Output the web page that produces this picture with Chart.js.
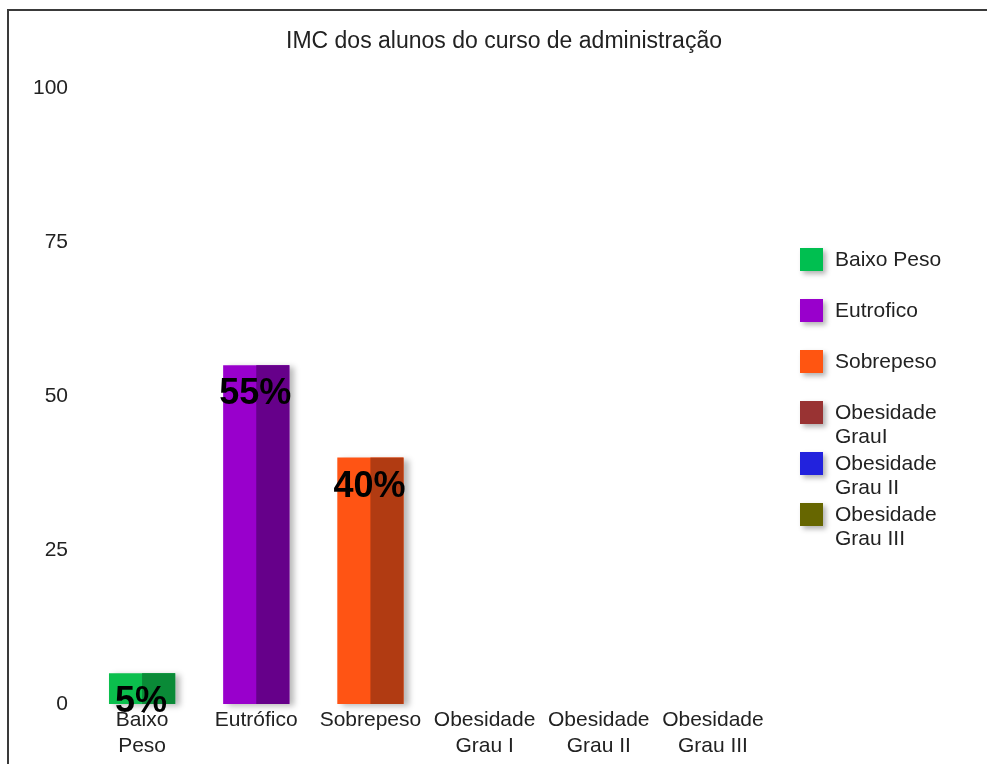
<!DOCTYPE html>
<html>
<head>
<meta charset="utf-8">
<script src="https://cdn.jsdelivr.net/npm/chart.js@4/dist/chart.umd.min.js"></script>
<style>
  body { margin: 0; background: #fff; overflow: hidden; }
  #frame {
    position: absolute; left: 7px; top: 9px;
    width: 1000px; height: 780px;
    border-top: 2px solid #3a3a3a;
    border-left: 2px solid #3a3a3a;
  }
  #imcChart { display: block; }
</style>
</head>
<body>
<div id="frame"><canvas id="imcChart" width="990" height="753"></canvas></div>
<script>
// Dados do grafico
const chartTitle = 'IMC dos alunos do curso de administração';
const categories = [['Baixo', 'Peso'], ['Eutrófico'], ['Sobrepeso'], ['Obesidade', 'Grau I'], ['Obesidade', 'Grau II'], ['Obesidade', 'Grau III']];
const percentages = [5, 55, 40, 0, 0, 0];
const yTicks = [0, 25, 50, 75, 100];
const legendNames = [['Baixo Peso'], ['Eutrofico'], ['Sobrepeso'], ['Obesidade', 'GrauI'], ['Obesidade', 'Grau II'], ['Obesidade', 'Grau III']];

const lightColors = ['#0bbf4d', '#9900cc', '#ff5414', '#993333', '#2222dd', '#666600'];
const darkColors = ['#0a8a37', '#66008a', '#b13b12', '#6b2323', '#17179a', '#474700'];
const legendColors = ['#00bf50', '#9900cc', '#ff5511', '#993333', '#2222dd', '#666600'];

const FONT = '"Liberation Sans", Arial, sans-serif';

// titulo centrado no canvas inteiro (nao so na area do grafico)
const titlePlugin = {
  id: 'wideTitle',
  afterDraw(chart) {
    const ctx = chart.ctx;
    ctx.save();
    ctx.fillStyle = '#222';
    ctx.font = '23px ' + FONT;
    ctx.textAlign = 'center';
    ctx.textBaseline = 'middle';
    ctx.fillText(chartTitle, chart.width / 2, 31);
    ctx.restore();
  }
};

// sombra e metade escura das barras + rotulos
const barStylePlugin = {
  id: 'barStyle',
  beforeDatasetsDraw(chart) {
    const ctx = chart.ctx;
    ctx.save();
    ctx.shadowColor = 'rgba(0,0,0,0.28)';
    ctx.shadowBlur = 6;
    ctx.shadowOffsetX = 5;
    ctx.shadowOffsetY = 2;
  },
  afterDatasetsDraw(chart) {
    const ctx = chart.ctx;
    ctx.restore();
    const meta = chart.getDatasetMeta(0);
    meta.data.forEach((bar, i) => {
      if (!percentages[i]) return;
      ctx.fillStyle = darkColors[i];
      ctx.fillRect(bar.x, bar.y, bar.width / 2, bar.base - bar.y);
    });
    ctx.save();
    ctx.fillStyle = '#000';
    ctx.font = 'bold 36px ' + FONT;
    ctx.textAlign = 'center';
    ctx.textBaseline = 'middle';
    meta.data.forEach((bar, i) => {
      if (!percentages[i]) return;
      ctx.fillText(percentages[i] + '%', bar.x - 1, bar.y + 29);
    });
    ctx.restore();
  }
};

// legenda desenhada a mao (rotulos em duas linhas)
const sideLegendPlugin = {
  id: 'sideLegend',
  afterDraw(chart) {
    const ctx = chart.ctx;
    const boxX = 791, boxY = 237, step = 51, box = 23;
    ctx.save();
    legendNames.forEach((lines, i) => {
      const y = boxY + i * step;
      ctx.save();
      ctx.shadowColor = 'rgba(0,0,0,0.3)';
      ctx.shadowBlur = 5;
      ctx.shadowOffsetX = 3;
      ctx.shadowOffsetY = 3;
      ctx.fillStyle = legendColors[i];
      ctx.fillRect(boxX, y, box, box);
      ctx.restore();
      ctx.fillStyle = '#222';
      ctx.font = '21px ' + FONT;
      ctx.textAlign = 'left';
      ctx.textBaseline = 'middle';
      lines.forEach((t, k) => {
        ctx.fillText(t, boxX + 35, y + box / 2 + 1 + k * 24);
      });
    });
    ctx.restore();
  }
};

const ctx = document.getElementById('imcChart');
new Chart(ctx, {
  type: 'bar',
  data: {
    labels: categories,
    datasets: [{
      data: percentages,
      backgroundColor: lightColors,
      borderWidth: 0,
      barPercentage: 0.58,
      categoryPercentage: 1,
      clip: false
    }]
  },
  options: {
    responsive: false,
    animation: false,
    layout: { padding: { left: 0, right: 229, top: 77, bottom: 0 } },
    plugins: {
      legend: { display: false },
      tooltip: { enabled: false },
      title: { display: false }
    },
    scales: {
      x: {
        grid: { display: false, drawTicks: false },
        border: { display: false },
        ticks: {
          color: '#222',
          font: { family: FONT, size: 21 },
          padding: 4,
          autoSkip: false,
          maxRotation: 0
        },
        afterFit(scale) { scale.height = 60; }
      },
      y: {
        min: 0,
        max: 100,
        grid: { display: false, drawTicks: false },
        border: { display: false },
        afterBuildTicks(scale) { scale.ticks = yTicks.map(v => ({ value: v })); },
        ticks: {
          color: '#222',
          font: { family: FONT, size: 21 },
          padding: 17
        },
        afterFit(scale) { scale.width = 76; }
      }
    }
  },
  plugins: [titlePlugin, barStylePlugin, sideLegendPlugin]
});
</script>
</body>
</html>
